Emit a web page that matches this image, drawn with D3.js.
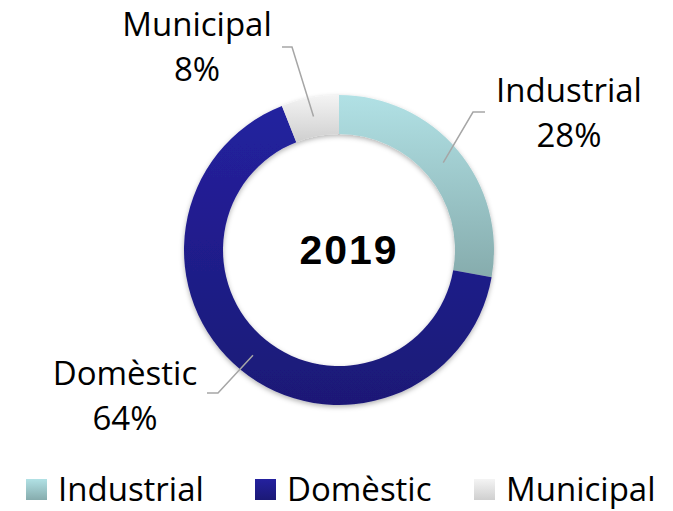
<!DOCTYPE html>
<html>
<head>
<meta charset="utf-8">
<script src="https://cdn.jsdelivr.net/npm/d3@7/dist/d3.min.js"></script>
<style>
  html, body { margin: 0; padding: 0; background: #fff; }
  svg { display: block; }
</style>
</head>
<body>
<div id="chart"></div>
<script>
// data
const categories = ["Industrial", "Domèstic", "Municipal"]
const shares = [27.8, 66.2, 6.0]           // slice sizes (as drawn)
const pctLabels = ["28%", "64%", "8%"]     // labels as printed
const centerTitle = "2019"

// colours: top / bottom of each slice gradient
const colorTop = ["#b1e1e5", "#24219f", "#f4f4f4"]
const colorBottom = ["#86acad", "#1b1976", "#cfcfcf"]

const width = 673
const height = 511
const cx = 339
const cy = 250
const outerR = 155
const innerR = 116

// label layout (text centre x, first baseline, elbow + end of leader)
const labelLayout = [
	{ x: 569, y: 102, elbow: [473, 112], end: [485, 112] },
	{ x: 125, y: 385, elbow: [218, 393], end: [207, 393] },
	{ x: 197, y: 36, elbow: [292, 47], end: [282, 47] },
]
const legendX = [26, 255, 474]

const svg = d3.select("#chart")
	.append("svg")
	.attr("width", width)
	.attr("height", height)

const defs = svg.append("defs")

categories.forEach((c, i) => {
	const g = defs.append("linearGradient")
		.attr("id", `grad-${i}`)
		.attr("x1", 0).attr("y1", 0)
		.attr("x2", 0).attr("y2", 1)
	g.append("stop").attr("offset", "0%").attr("stop-color", colorTop[i])
	g.append("stop").attr("offset", "100%").attr("stop-color", colorBottom[i])
})

const shadow = defs.append("filter")
	.attr("id", "shadow")
	.attr("x", "-10%").attr("y", "-10%")
	.attr("width", "120%").attr("height", "120%")
shadow.append("feDropShadow")
	.attr("dx", 0)
	.attr("dy", 2)
	.attr("stdDeviation", 2.5)
	.attr("flood-color", "#000")
	.attr("flood-opacity", 0.3)

const pie = d3.pie().sort(null).value(d => d)
const arcs = pie(shares)

const arc = d3.arc().innerRadius(innerR).outerRadius(outerR)
const midArc = d3.arc().innerRadius(136).outerRadius(136)

const ring = svg.append("g")
	.attr("transform", `translate(${cx},${cy})`)
	.attr("filter", "url(#shadow)")

ring.selectAll("path")
	.data(arcs)
	.enter()
	.append("path")
	.attr("d", arc)
	.attr("fill", (d, i) => `url(#grad-${i})`)

// leader lines
const leaders = svg.append("g")
	.attr("fill", "none")
	.attr("stroke", "#a6a6a6")
	.attr("stroke-width", 1.5)

arcs.forEach((d, i) => {
	const [mx, my] = midArc.centroid(d)
	const lay = labelLayout[i]
	leaders.append("polyline")
		.attr("points", [[cx + mx, cy + my], lay.elbow, lay.end].map(p => p.join(",")).join(" "))
})

// data labels
const labels = svg.append("g")
	.style("font-family", "'Open Sans', sans-serif")
	.style("font-size", "33px")
	.attr("fill", "#000")
	.attr("text-anchor", "middle")

categories.forEach((c, i) => {
	const lay = labelLayout[i]
	labels.append("text").attr("x", lay.x).attr("y", lay.y).text(c)
	labels.append("text").attr("x", lay.x).attr("y", lay.y + 45).text(pctLabels[i])
})

// centre title
svg.append("text")
	.attr("x", cx + 10)
	.attr("y", 264)
	.attr("text-anchor", "middle")
	.style("font-family", "'Liberation Sans', Arial, sans-serif")
	.style("font-weight", "bold")
	.style("font-size", "41px")
	.style("letter-spacing", "2px")
	.text(centerTitle)

// legend
const legend = svg.append("g")
categories.forEach((c, i) => {
	legend.append("rect")
		.attr("x", legendX[i])
		.attr("y", 479)
		.attr("width", 21)
		.attr("height", 21)
		.attr("fill", `url(#grad-${i})`)
	legend.append("text")
		.attr("x", legendX[i] + 32)
		.attr("y", 501)
		.style("font-family", "'Open Sans', sans-serif")
		.style("font-size", "33px")
		.attr("fill", "#000")
		.text(c)
})
</script>
</body>
</html>
